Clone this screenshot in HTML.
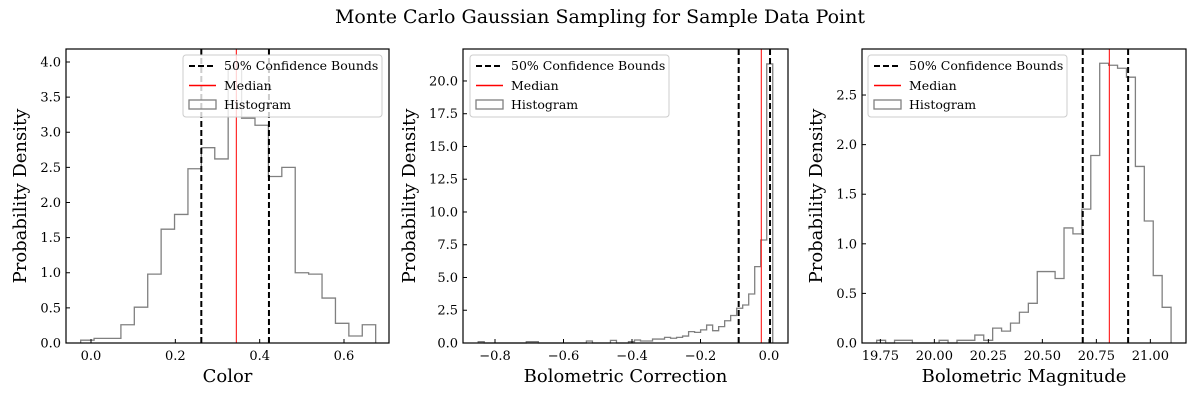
<!DOCTYPE html>
<html><head><meta charset="utf-8"><style>
body{margin:0;background:#fff;}
svg text{font-family:"DejaVu Serif","Liberation Serif",serif;fill:#000;}
</style></head><body>
<svg id="fig" width="1200" height="400" xmlns="http://www.w3.org/2000/svg">
<text x="600" y="23" font-size="19" text-anchor="middle">Monte Carlo Gaussian Sampling for Sample Data Point</text>
</svg>
<script>
// Panel 1: Color
const colorStart = -0.0245, colorWidth = 0.0318;
const colorHeights = [0.04,0.066,0.066,0.26,0.51,0.98,1.62,1.83,2.48,2.78,2.62,3.9,3.2,3.10,2.37,2.50,1.0,0.98,0.64,0.28,0.10,0.26];
const colorBounds = [0.2616, 0.422];
const colorMedian = 0.3446;
const colorXTicks = [0.0,0.2,0.4,0.6];
const colorXTickLabels = ["0.0","0.2","0.4","0.6"];
const colorYTicks = [0,0.5,1,1.5,2,2.5,3,3.5,4];
const colorYTickLabels = ["0.0","0.5","1.0","1.5","2.0","2.5","3.0","3.5","4.0"];
// Panel 2: Bolometric Correction
const bcStart = -0.849, bcWidth = 0.01755;
const bcHeights = [0.1,0,0,0,0,0,0,0,0.1,0.1,0,0,0,0,0,0,0,0,0.15,0,0,0,0.2,0,0,0.1,0.23,0.15,0.15,0.3,0.3,0.43,0.36,0.43,0.53,0.87,0.81,1.0,1.37,0.94,1.25,1.7,2.1,2.65,2.9,3.74,5.83,7.86,21.3];
const bcBounds = [-0.0885, 0.003];
const bcMedian = -0.0225;
const bcXTicks = [-0.8,-0.6,-0.4,-0.2,0.0];
const bcXTickLabels = ["\u22120.8","\u22120.6","\u22120.4","\u22120.2","0.0"];
const bcYTicks = [0,2.5,5,7.5,10,12.5,15,17.5,20];
const bcYTickLabels = ["0.0","2.5","5.0","7.5","10.0","12.5","15.0","17.5","20.0"];
// Panel 3: Bolometric Magnitude
const bmStart = 19.733, bmWidth = 0.0413;
const bmHeights = [0.027,0,0.027,0.027,0,0,0,0.027,0,0.027,0.027,0.08,0.027,0.15,0.12,0.2,0.31,0.40,0.72,0.72,0.65,1.16,1.1,1.35,1.89,2.82,2.80,2.77,2.68,1.78,1.23,0.68,0.36];
const bmBounds = [20.687, 20.897];
const bmMedian = 20.81;
const bmXTicks = [19.75,20.0,20.25,20.5,20.75,21.0];
const bmXTickLabels = ["19.75","20.00","20.25","20.50","20.75","21.00"];
const bmYTicks = [0,0.5,1,1.5,2,2.5];
const bmYTickLabels = ["0.0","0.5","1.0","1.5","2.0","2.5"];

const NS="http://www.w3.org/2000/svg";
const fig=document.getElementById('fig');
function mk(tag,attrs,parent){const e=document.createElementNS(NS,tag);for(const k in attrs)e.setAttribute(k,attrs[k]);(parent||fig).appendChild(e);return e;}

function panel(p){
  const g=mk('g',{});
  
  
  const L=p.box[0],R=p.box[1],T=49,B=343;
  const X=v=>L+(v-p.xr[0])/(p.xr[1]-p.xr[0])*(R-L);
  const Y=v=>B-(v-p.yr[0])/(p.yr[1]-p.yr[0])*(B-T);
  let d='M'+X(p.start)+','+Y(0);
  p.heights.forEach((h,i)=>{const x0=X(p.start+i*p.width),x1=X(p.start+(i+1)*p.width);d+=' L'+x0+','+Y(h)+' L'+x1+','+Y(h);});
  d+=' L'+X(p.start+p.heights.length*p.width)+','+Y(0);
  const hist=mk('path',{d:d,fill:'none',stroke:'#808080','stroke-width':1.3},g);
  
  
  p.bounds.forEach((b,i)=>{
    const l=mk('line',{x1:X(b),x2:X(b),y1:T,y2:B,stroke:'#000','stroke-width':2,'stroke-dasharray':'6,3'},g);
    
    
  });
  const m=mk('line',{x1:X(p.median),x2:X(p.median),y1:T,y2:B,stroke:'#ff0000','stroke-width':1},g);
  
  
  const lg=mk('g',{},g);
  
  
  const lx=p.legX;
  mk('rect',{x:lx,y:55,width:199,height:62,rx:3,fill:'#fff','fill-opacity':0.8,stroke:'#ccc','stroke-width':1},lg);
  mk('line',{x1:lx+6,x2:lx+33,y1:66,y2:66,stroke:'#000','stroke-width':2,'stroke-dasharray':'6,3'},lg);
  mk('line',{x1:lx+6,x2:lx+33,y1:85.5,y2:85.5,stroke:'#ff0000','stroke-width':1.5},lg);
  mk('rect',{x:lx+6,y:100,width:27,height:9,fill:'none',stroke:'#808080','stroke-width':1.3},lg);
  [['50% Confidence Bounds',70],['Median',90],['Histogram',109]].forEach(([t,y])=>{const e=mk('text',{x:lx+41,y:y,'font-size':12.5},lg);e.textContent=t;});
  p.xt.forEach((v,i)=>{
    mk('line',{x1:X(v),x2:X(v),y1:B,y2:B-4,stroke:'#000'},g);
    const t=mk('text',{x:X(v),y:B+17,'font-size':13,'text-anchor':'middle'},g);t.textContent=p.xtl[i];
  });
  p.yt.forEach((v,i)=>{
    mk('line',{x1:L,x2:L+4,y1:Y(v),y2:Y(v),stroke:'#000'},g);
    const t=mk('text',{x:L-5,y:Y(v)+4.5,'font-size':13,'text-anchor':'end'},g);t.textContent=p.ytl[i];
  });
  const fr=mk('rect',{x:L,y:T,width:R-L,height:B-T,fill:'none',stroke:'#000','stroke-width':1.2},g);
  
  
  const xl=mk('text',{x:(L+R)/2,y:382,'font-size':18,'text-anchor':'middle'},g);xl.textContent=p.xlabel;
  
  
  const yl=mk('text',{x:0,y:0,'font-size':18,'text-anchor':'middle',transform:'translate('+(L-p.ylOff)+','+((T+B)/2)+') rotate(-90)'},g);yl.textContent='Probability Density';
  
  
}
panel({name:'color',box:[66,389],xr:[-0.0593,0.7067],yr:[0,4.185],start:colorStart,width:colorWidth,heights:colorHeights,bounds:colorBounds,median:colorMedian,xt:colorXTicks,xtl:colorXTickLabels,yt:colorYTicks,ytl:colorYTickLabels,xlabel:'Color',legX:183,ylOff:40});
panel({name:'bolometric-correction',box:[463,788],xr:[-0.8934,0.0555],yr:[0,22.44],start:bcStart,width:bcWidth,heights:bcHeights,bounds:bcBounds,median:bcMedian,xt:bcXTicks,xtl:bcXTickLabels,yt:bcYTicks,ytl:bcYTickLabels,xlabel:'Bolometric Correction',legX:470,ylOff:48});
panel({name:'bolometric-magnitude',box:[862,1186],xr:[19.665,21.165],yr:[0,2.964],start:bmStart,width:bmWidth,heights:bmHeights,bounds:bmBounds,median:bmMedian,xt:bmXTicks,xtl:bmXTickLabels,yt:bmYTicks,ytl:bmYTickLabels,xlabel:'Bolometric Magnitude',legX:868,ylOff:40});
</script>
</body></html>
